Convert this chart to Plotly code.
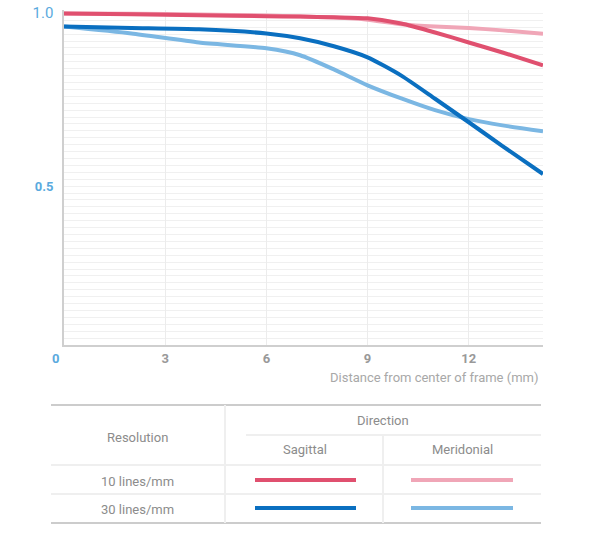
import plotly.graph_objects as go

# ---- data ----
x_mm = [0, 2, 4, 6, 7, 8, 9, 10, 11, 12, 13, 14.2]
sag_10 = [1.0, 0.998, 0.995, 0.992, 0.991, 0.989, 0.986, 0.971, 0.945, 0.916, 0.887, 0.85]
mer_10 = [1.0, 0.999, 0.997, 0.994, 0.991, 0.988, 0.982, 0.969, 0.962, 0.958, 0.951, 0.941]
sag_30 = [0.962, 0.958, 0.954, 0.942, 0.928, 0.905, 0.873, 0.82, 0.753, 0.685, 0.616, 0.535]
mer_30 = [0.962, 0.942, 0.916, 0.899, 0.879, 0.838, 0.792, 0.754, 0.72, 0.694, 0.676, 0.659]

series_names = ["10 lines/mm Sagittal", "10 lines/mm Meridonial",
                "30 lines/mm Sagittal", "30 lines/mm Meridonial"]
colors = ["#e0506f", "#f0a6b7", "#0a6fc0", "#7bb7e3"]

x_ticks = [0, 3, 6, 9, 12]
y_ticks = [0.5, 1.0]
table_rows = ["10 lines/mm", "30 lines/mm"]
table_cols = ["Sagittal", "Meridonial"]

W, H = 604, 550
L, R, T, B = 64, 61, 10, 205
PW, PH = W - L - R, H - T - B


def px(xp):
    return (xp - L) / PW


def py(yp):
    return (H - B - yp) / PH


FONT = "Roboto"
GRAY = "#8c8c8c"
BLUE_LBL = "#5aaade"

fig = go.Figure()
order = [1, 0, 3, 2]  # meridional drawn under sagittal
all_series = [sag_10, mer_10, sag_30, mer_30]
for i in order:
    fig.add_trace(go.Scatter(x=x_mm, y=all_series[i], mode="lines", name=series_names[i],
                             line=dict(color=colors[i], width=4, shape="spline", smoothing=0.6),
                             showlegend=False, hoverinfo="skip"))

fig.update_layout(
    width=W, height=H,
    margin=dict(l=L, r=R, t=T, b=B),
    paper_bgcolor="white", plot_bgcolor="white",
    font=dict(family=FONT, color=GRAY, size=13),
    xaxis=dict(range=[0, 14.2], tickmode="array", tickvals=x_ticks,
               ticktext=[""] + ["<b>%d</b>" % v for v in x_ticks[1:]],
               tickfont=dict(size=13, color="#999999"),
               showgrid=True, gridcolor="#ececec", gridwidth=1,
               zeroline=False, showline=True, linecolor="#cfcfcf", linewidth=2,
               ticks="", ticklabelstandoff=0, automargin=False),
    yaxis=dict(range=[0.04, 1.01], tickmode="array", tickvals=y_ticks,
               ticktext=["<b>0.5</b>", "<span style='font-size:15px'>1.0</span>"],
               tickfont=dict(size=13, color=BLUE_LBL),
               showgrid=False, zeroline=False, showline=True, automargin=False,
               linecolor="#cfcfcf", linewidth=2, ticks="", ticklabelstandoff=6,
               minor=dict(tickmode="linear", tick0=0, dtick=0.02, showgrid=True,
                          gridcolor="#f0f0f0", gridwidth=1, ticks="")),
)

# origin label sits left of the axis line in the reference
fig.add_annotation(x=px(55), y=py(358), xref="paper", yref="paper",
                   text="<b>%d</b>" % x_ticks[0], showarrow=False,
                   xanchor="center", yanchor="middle",
                   font=dict(size=13, color=BLUE_LBL))

fig.add_annotation(x=px(541), y=py(377), xref="paper", yref="paper",
                   text="Distance from center of frame (mm)", showarrow=False,
                   xanchor="right", yanchor="middle",
                   font=dict(size=13, color="#a8a8a8"))

# ---- table ----
shapes = []
def hline(x0, x1, y, color, w=2):
    shapes.append(dict(type="line", xref="paper", yref="paper",
                       x0=px(x0), x1=px(x1), y0=py(y), y1=py(y),
                       line=dict(color=color, width=w)))

def vline(x, y0, y1, color, w=2):
    shapes.append(dict(type="line", xref="paper", yref="paper",
                       x0=px(x), x1=px(x), y0=py(y0), y1=py(y1),
                       line=dict(color=color, width=w)))

hline(51, 541, 405, "#cccccc", 2)
hline(51, 541, 523, "#cccccc", 2)
hline(51, 541, 465, "#efefef", 2)
hline(51, 541, 494, "#efefef", 2)
hline(246, 541, 435, "#efefef", 2)
vline(225, 405, 523, "#efefef", 2)
vline(383, 435, 523, "#efefef", 2)

row_y = [480, 508]
col_x = [(255, 356), (411, 513)]
for r in range(2):
    for cidx in range(2):
        x0, x1 = col_x[cidx]
        hline(x0, x1, row_y[r], colors[r * 2 + cidx], 4)

def label(x, y, text):
    fig.add_annotation(x=px(x), y=py(y), xref="paper", yref="paper", text=text,
                       showarrow=False, xanchor="center", yanchor="middle",
                       font=dict(size=13, color=GRAY))

label(137, 437, "Resolution")
label(383, 420, "Direction")
label(305, 449, table_cols[0])
label(462, 449, table_cols[1])
label(137, 481, table_rows[0])
label(137, 509, table_rows[1])

fig.update_layout(shapes=shapes)
fig.write_html("out.html")
